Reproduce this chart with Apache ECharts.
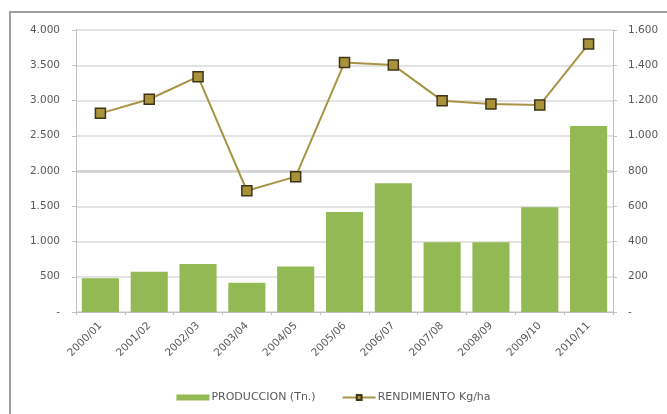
<!DOCTYPE html>
<html>
<head>
<meta charset="utf-8">
<script src="https://cdn.jsdelivr.net/npm/echarts@6/dist/echarts.min.js"></script>
<style>
  html, body { margin: 0; padding: 0; background: #ffffff; }
  #chart { width: 667px; height: 414px; }
</style>
</head>
<body>
<div id="chart"></div>
<script>
// Campaigns (x axis)
var campaigns = ['2000/01', '2001/02', '2002/03', '2003/04', '2004/05', '2005/06',
                 '2006/07', '2007/08', '2008/09', '2009/10', '2010/11'];
// Production in tonnes (left axis)
var produccion = [480, 570, 680, 415, 645, 1420, 1825, 990, 990, 1485, 2640];
// Yield in kg/ha (right axis)
var rendimiento = [1127, 1207, 1335, 688, 768, 1415, 1401, 1199, 1180, 1174, 1521];
// Axis ranges and steps
var leftMax = 4000, leftStep = 500;
var rightMax = 1600, rightStep = 200;

// Thousands separated with a dot, zero shown as a dash
function fmt(v) {
  if (v === 0) return '-';
  return String(v).replace(/\B(?=(\d{3})+(?!\d))/g, '.');
}

var chart = echarts.init(document.getElementById('chart'), null, { renderer: 'canvas' });
var FONT = 'DejaVu Sans, Verdana, sans-serif';
var labelFont = { color: '#595959', fontSize: 10.5, fontFamily: FONT };

chart.setOption({
  animation: false,
  backgroundColor: '#ffffff',
  graphic: [{
    type: 'rect',
    shape: { x: 10, y: 12, width: 700, height: 460 },
    style: { fill: 'none', stroke: '#a0a0a0', lineWidth: 2 },
    z: 100
  }],
  grid: { left: 76, right: 54, top: 30, bottom: 102 },
  legend: {
    bottom: 6,
    left: 'center',
    itemGap: 26,
    itemWidth: 33,
    itemHeight: 6,
    textStyle: { color: '#595959', fontSize: 11, fontFamily: FONT, padding: [0, 0, 0, -3] },
    data: [
      { name: 'PRODUCCION (Tn.)', icon: 'rect' },
      { name: 'RENDIMIENTO Kg/ha' }
    ]
  },
  xAxis: {
    type: 'category',
    data: campaigns,
    axisLine: { lineStyle: { color: '#bfbfbf' } },
    axisTick: { show: true, length: 3, lineStyle: { color: '#bfbfbf' } },
    axisLabel: Object.assign({ rotate: 45, margin: 12, interval: 0 }, labelFont)
  },
  yAxis: [{
    type: 'value',
    min: 0, max: leftMax, interval: leftStep,
    axisLine: { show: true, lineStyle: { color: '#bfbfbf' } },
    axisTick: { show: true, length: 4, lineStyle: { color: '#bfbfbf' } },
    splitLine: { lineStyle: { color: '#d9d9d9', width: 1.5 } },
    axisLabel: Object.assign({ margin: 16, formatter: fmt }, labelFont)
  }, {
    type: 'value',
    min: 0, max: rightMax, interval: rightStep,
    position: 'right',
    axisLine: { show: true, lineStyle: { color: '#bfbfbf' } },
    axisTick: { show: true, length: 4, lineStyle: { color: '#bfbfbf' } },
    splitLine: { show: false },
    axisLabel: Object.assign({ margin: 15, formatter: fmt }, labelFont)
  }],
  series: [{
    name: 'PRODUCCION (Tn.)',
    type: 'bar',
    data: produccion,
    yAxisIndex: 0,
    barCategoryGap: '24%',
    itemStyle: { color: '#93b955' },
    markLine: {
      silent: true,
      symbol: 'none',
      label: { show: false },
      lineStyle: { color: '#d0d0d0', width: 2.5, type: 'solid' },
      data: [{ yAxis: 2000 }],
      z: 0
    }
  }, {
    name: 'RENDIMIENTO Kg/ha',
    type: 'line',
    data: rendimiento,
    yAxisIndex: 1,
    symbol: 'rect',
    symbolSize: 10,
    lineStyle: { color: '#a89444', width: 2 },
    itemStyle: { color: '#a8923a', borderColor: '#3e3517', borderWidth: 1.5 }
  }]
});
</script>
</body>
</html>
